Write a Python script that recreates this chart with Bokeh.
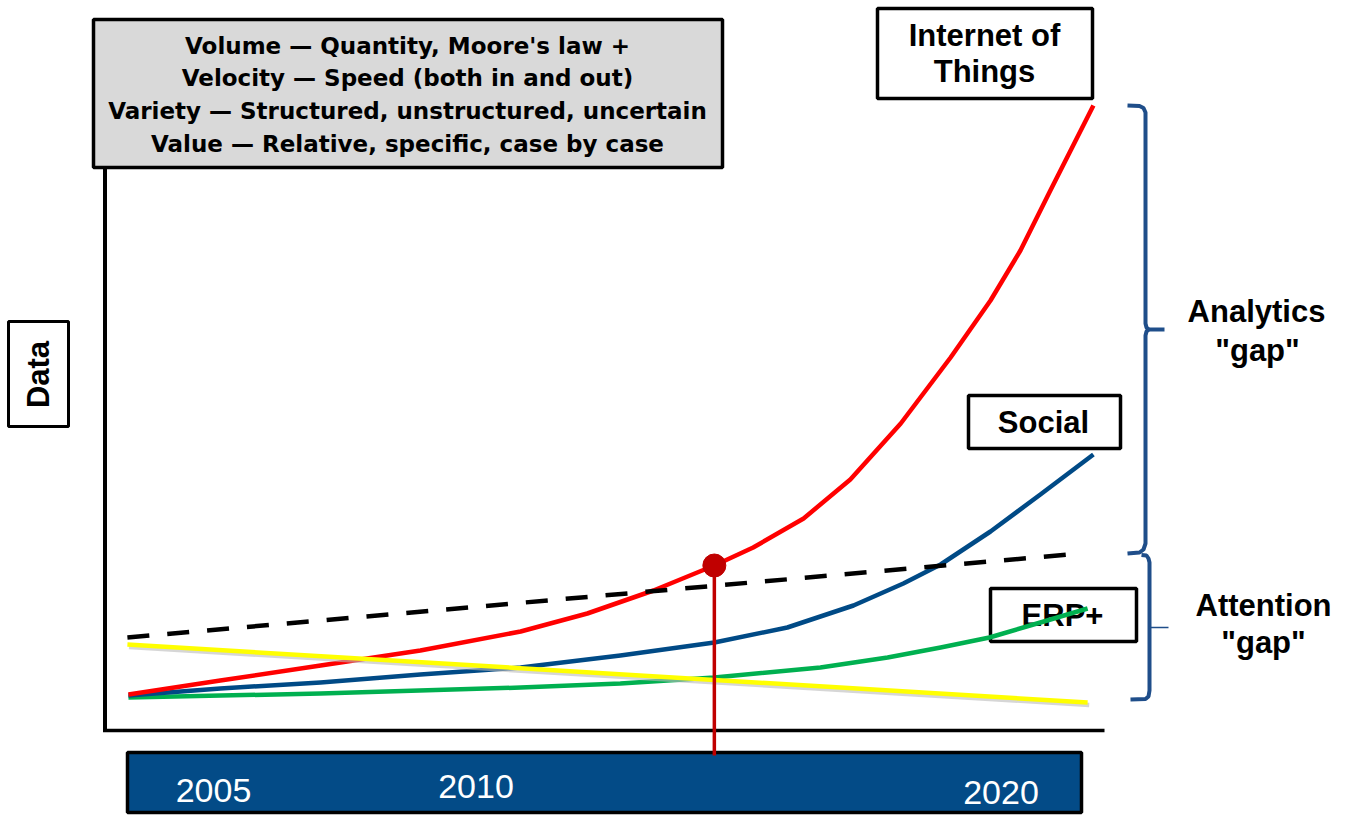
from bokeh.plotting import figure
from bokeh.models import Range1d
from bokeh.core.properties import value
from bokeh.embed import file_html
from bokeh.resources import INLINE
import math

# ---------------- data (year, data-volume index) ----------------
iot_years = [2003.38, 2005.13, 2007.04, 2008.94, 2010.85, 2012.12, 2013.38, 2014.54,
             2015.28, 2016.24, 2017.13, 2018.09, 2019.04, 2019.80, 2020.37, 2020.94, 2021.76]
iot_vals = [0.6, 2.0, 3.5, 5.0, 6.9, 8.7, 11.0, 13.5, 15.3, 18.2, 22.1, 27.7, 34.3,
            40.0, 45.0, 51.0, 59.5]

social_years = [2003.38, 2005.13, 2007.04, 2008.94, 2010.85, 2012.75, 2014.54,
                2015.93, 2017.19, 2018.14, 2018.85, 2019.80, 2020.75, 2021.76]
social_vals = [0.5, 1.2, 1.8, 2.6, 3.3, 4.5, 5.8, 7.3, 9.5, 11.7, 13.6, 16.9, 20.6, 24.6]

erp_years = [2003.38, 2007.04, 2010.85, 2012.75, 2014.54, 2016.56, 2017.84,
             2018.85, 2019.78, 2020.75, 2021.65]
erp_vals = [0.3, 0.7, 1.3, 1.7, 2.3, 3.3, 4.3, 5.3, 6.3, 7.8, 9.2]

attention_years = [2003.36, 2021.65]
attention_vals = [5.6, -0.2]

capacity_years = [2003.36, 2021.51]
capacity_vals = [6.3, 14.7]

now_year = [2014.54]
now_val = [13.5]
now_floor = [-5.5]

tick_years = [2005, 2010, 2020]
tick_labels = ["2005", "2010", "2020"]

box_lines = ["Volume \u2014 Quantity, Moore's law +",
             "Velocity \u2014 Speed (both in and out)",
             "Variety \u2014 Structured, unstructured, uncertain",
             "Value \u2014 Relative, specific, case by case"]

# ---------------- layout helpers (page pixels -> data) ----------------
W, H = 1347, 816
def X(px):
    return 2005 + (px - 213) / 52.5
def Y(py):
    return (700 - py) / 10.0

p = figure(width=W, height=H, output_backend="svg", toolbar_location=None,
           x_axis_type=None, y_axis_type=None,
           x_range=Range1d(X(0), X(W)), y_range=Range1d(Y(H), Y(0)),
           min_border=0, outline_line_color=None, background_fill_color="white")
p.grid.visible = False

BOLD = value("Liberation Sans")
BRACE = "#1f4e8a"
LBL = "31px"
LW = 4.5

# gray definition box
p.quad(left=[X(93)], right=[X(722)], top=[Y(19)], bottom=[Y(167)],
       fill_color="#d9d9d9", line_color="black", line_width=3.5)
p.text(x=[X(407)] * 4, y=[Y(45), Y(77), Y(110), Y(143)], text=box_lines,
       text_font=value("DejaVu Sans"), text_font_style="bold", text_font_size="23px",
       text_align="center", text_baseline="middle", text_color="black")

# axes frame lines
p.line(x=[X(104.5), X(104.5)], y=[Y(167), Y(731)], line_color="black", line_width=4)
p.line(x=[X(102.5), X(1104)], y=[Y(730), Y(730)], line_color="black", line_width=3.5)

# Data label box
p.quad(left=[X(8)], right=[X(68)], top=[Y(321)], bottom=[Y(426)],
       fill_color="white", line_color="black", line_width=3)
p.text(x=[X(38)], y=[Y(374)], text=["Data"], angle=math.pi / 2,
       text_font=BOLD, text_font_style="bold", text_font_size=LBL,
       text_align="center", text_baseline="middle")

# category boxes
p.quad(left=[X(877), X(968), X(990)], right=[X(1092), X(1120), X(1136)],
       top=[Y(8), Y(395), Y(588)], bottom=[Y(98), Y(448), Y(641)],
       fill_color="white", line_color="black", line_width=3.5)
p.text(x=[X(984), X(984), X(1043), X(1062)], y=[Y(35), Y(71), Y(422), Y(615)],
       text=["Internet of", "Things", "Social", "ERP+"],
       text_font=BOLD, text_font_style="bold", text_font_size=LBL,
       text_align="center", text_baseline="middle")

# curves
p.line(erp_years, erp_vals, line_color="#00b050", line_width=LW, line_join="round")
p.line(social_years, social_vals, line_color="#004a86", line_width=LW, line_join="round")
p.line(iot_years, iot_vals, line_color="#ff0000", line_width=LW, line_join="round")
p.line([v + 0.03 for v in attention_years], [v - 0.25 for v in attention_vals],
       line_color="#bbbbbb", line_alpha=0.6, line_width=LW)
p.line(attention_years, attention_vals, line_color="#ffff00", line_width=LW)
p.line(capacity_years, capacity_vals, line_color="black", line_width=LW, line_dash="22 18")

# bottom timeline bar
p.quad(left=[X(127)], right=[X(1081)], top=[Y(752)], bottom=[Y(812)],
       fill_color="#034b87", line_color="black", line_width=3.5)
p.text(x=tick_years, y=[Y(790), Y(786), Y(792)], text=tick_labels,
       text_font=value("Liberation Sans"), text_font_size="34px",
       text_color="white", text_align="center", text_baseline="middle")

# "now" marker
p.segment(x0=now_year, y0=now_val, x1=now_year, y1=now_floor,
          line_color="#c00000", line_width=3.5)
p.scatter(now_year, now_val, size=23, fill_color="#c00000", line_color="#c00000")

# braces
ax = [1127, 1139, 1143, 1145, 1145, 1146, 1148, 1146, 1145, 1145, 1143, 1139, 1127]
ay = [105, 105.5, 107.5, 112, 323, 327, 329, 331, 335, 543, 549, 552, 553]
p.line([X(v) for v in ax], [Y(v) for v in ay], line_color=BRACE, line_width=4)
p.line([X(1146), X(1164)], [Y(329), Y(329)], line_color=BRACE, line_width=4)
bx = [1141, 1146, 1148, 1149, 1149, 1148, 1145, 1130]
by = [554.5, 555, 558, 562, 690, 696, 698.5, 699]
p.line([X(v) for v in bx], [Y(v) for v in by], line_color=BRACE, line_width=4)
p.line([X(1149), X(1168)], [Y(627), Y(627)], line_color=BRACE, line_width=1.5)

p.text(x=[X(1256), X(1257), X(1263), X(1263)], y=[Y(311), Y(350), Y(605), Y(642)],
       text=["Analytics", "\"gap\"", "Attention", "\"gap\""],
       text_font=BOLD, text_font_style="bold", text_font_size=LBL,
       text_align="center", text_baseline="middle")

open("out.html", "w").write(file_html(p, INLINE))
